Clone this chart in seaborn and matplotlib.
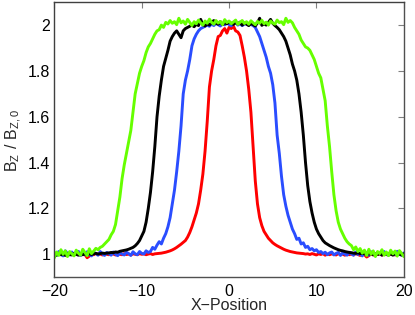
import numpy as np
import pandas as pd
import matplotlib
matplotlib.use('Agg')
import matplotlib.pyplot as plt
import seaborn as sns

# x grid: -20 .. 20 in 0.25 steps (161 points)
x_pos = np.linspace(-20, 20, 161)

red = [
    1.002, 0.998, 1.004, 1.000, 0.997, 1.003, 1.001, 0.999,
    1.003, 0.998, 1.002, 1.000, 0.996, 1.004, 0.999, 0.985,
    0.992, 1.002, 0.998, 1.004, 0.999, 1.001, 0.997, 1.003,
    1.000, 0.998, 1.004, 1.001, 0.997, 1.002, 1.000, 0.998,
    1.003, 0.999, 1.001, 0.997, 1.002, 1.000, 0.998, 1.003,
    1.000, 1.002, 0.998, 1.001, 1.003, 0.999, 1.002, 1.003,
    1.004, 1.005, 1.007, 1.009, 1.012, 1.015, 1.019, 1.024,
    1.030, 1.037, 1.044, 1.052, 1.060, 1.075, 1.095, 1.120,
    1.150, 1.180, 1.220, 1.280, 1.350, 1.450, 1.580, 1.730,
    1.800, 1.850, 1.910, 1.950, 1.955, 1.975, 1.985, 1.965,
    1.990, 1.985, 1.995, 1.975, 1.970, 1.955, 1.910, 1.860,
    1.800, 1.720, 1.620, 1.470, 1.320, 1.220, 1.160, 1.125,
    1.100, 1.085, 1.070, 1.060, 1.050, 1.043, 1.037, 1.032,
    1.027, 1.022, 1.018, 1.015, 1.012, 1.010, 1.008, 1.006,
    1.005, 1.004, 1.003, 1.001, 1.002, 0.999, 1.003, 1.000,
    0.997, 1.002, 0.999, 1.003, 0.996, 1.001, 0.998, 1.002,
    1.000, 0.997, 1.003, 0.999, 1.001, 0.996, 1.002, 0.998,
    1.001, 0.997, 1.003, 0.999, 0.995, 1.002, 0.998, 0.988,
    0.994, 1.001, 0.997, 1.003, 0.999, 1.002, 0.996, 1.001,
    0.998, 1.003, 0.999, 1.001, 0.997, 1.002, 1.000, 0.998,
    1.001,
]

blue = [
    1.005, 0.995, 1.012, 1.000, 0.993, 1.015, 1.004, 0.997,
    1.010, 0.996, 1.008, 1.013, 0.994, 1.006, 0.998, 1.011,
    1.000, 0.993, 1.009, 1.003, 0.996, 1.012, 1.001, 0.995,
    1.008, 1.002, 0.996, 1.010, 1.000, 0.994, 1.007, 1.001,
    0.997, 1.009, 1.003, 0.995, 1.011, 1.002, 0.998, 1.012,
    1.004, 1.001, 1.015, 1.008, 1.012, 1.030, 1.022, 1.040,
    1.055, 1.045, 1.070, 1.090, 1.120, 1.160, 1.220, 1.280,
    1.360, 1.450, 1.560, 1.700, 1.760, 1.800, 1.850, 1.910,
    1.940, 1.960, 1.975, 1.985, 1.990, 1.995, 2.000, 1.995,
    2.005, 1.998, 2.008, 2.002, 1.996, 2.006, 2.001, 2.010,
    2.003, 1.997, 2.008, 2.012, 2.000, 2.006, 1.998, 2.004,
    2.009, 2.001, 2.003, 1.998, 1.990, 1.970, 1.950, 1.920,
    1.890, 1.860, 1.820, 1.790, 1.740, 1.660, 1.520, 1.440,
    1.340, 1.260, 1.210, 1.170, 1.140, 1.110, 1.090, 1.065,
    1.070, 1.045, 1.050, 1.030, 1.035, 1.020, 1.025, 1.015,
    1.020, 1.008, 1.012, 1.003, 1.009, 0.998, 1.006, 1.010,
    0.997, 1.004, 1.008, 0.995, 1.006, 1.001, 0.996, 1.009,
    1.002, 0.996, 1.010, 0.999, 1.005, 0.993, 1.007, 1.002,
    0.996, 1.011, 1.000, 0.994, 1.008, 1.003, 0.997, 1.012,
    1.001, 0.995, 1.009, 1.004, 0.998, 1.013, 1.000, 0.996,
    1.006,
]

black = [
    1.000, 0.996, 1.004, 0.998, 1.002, 0.995, 1.003, 0.999,
    0.997, 1.003, 1.000, 0.996, 1.004, 0.998, 1.001, 0.997,
    1.003, 0.999, 1.002, 1.004, 1.001, 1.003, 1.005, 1.004,
    1.005, 1.006, 1.008, 1.007, 1.010, 1.009, 1.013, 1.015,
    1.017, 1.019, 1.022, 1.026, 1.030, 1.037, 1.047, 1.060,
    1.080, 1.100, 1.140, 1.200, 1.270, 1.360, 1.470, 1.600,
    1.690, 1.760, 1.820, 1.855, 1.890, 1.930, 1.950, 1.965,
    1.975, 1.960, 1.945, 1.975, 1.985, 1.990, 1.995, 2.000,
    1.993, 2.004, 1.998, 2.025, 2.002, 1.996, 2.006, 2.000,
    2.012, 2.020, 2.008, 2.004, 2.015, 2.002, 2.010, 2.006,
    2.014, 2.008, 2.003, 2.011, 2.005, 2.013, 2.000, 2.009,
    2.004, 1.998, 2.007, 2.002, 1.996, 2.010, 2.030, 1.999,
    2.006, 2.000, 2.012, 2.025, 2.008, 1.998, 1.990, 1.980,
    1.965, 1.950, 1.930, 1.900, 1.870, 1.830, 1.800, 1.760,
    1.700, 1.620, 1.520, 1.400, 1.300, 1.230, 1.180, 1.140,
    1.110, 1.090, 1.075, 1.060, 1.050, 1.044, 1.038, 1.033,
    1.028, 1.024, 1.020, 1.017, 1.015, 1.012, 1.010, 1.008,
    1.007, 1.005, 1.004, 1.006, 1.003, 1.005, 1.002, 1.004,
    1.001, 1.003, 0.998, 1.002, 0.999, 1.004, 0.997, 1.001,
    1.003, 0.998, 1.002, 0.996, 1.004, 0.999, 1.001, 0.997,
    1.002,
]

green = [
    0.985, 1.010, 0.995, 1.020, 1.000, 1.015, 0.990, 1.012,
    1.002, 0.993, 1.018, 1.005, 0.996, 1.022, 1.008, 0.994,
    1.024, 1.003, 1.014, 1.026, 1.020, 1.030, 1.035, 1.045,
    1.055, 1.065, 1.085, 1.100, 1.130, 1.190, 1.250, 1.330,
    1.390, 1.440, 1.490, 1.540, 1.620, 1.700, 1.745, 1.790,
    1.820, 1.845, 1.880, 1.905, 1.920, 1.940, 1.960, 1.975,
    1.980, 2.000, 1.990, 2.012, 2.005, 2.020, 2.008, 2.015,
    2.002, 2.030, 2.010, 2.018, 2.004, 2.025, 2.012, 1.998,
    2.015, 2.006, 2.022, 2.010, 2.000, 2.018, 2.008, 2.026,
    2.012, 2.004, 2.020, 2.009, 2.016, 2.002, 2.024, 2.011,
    2.018, 2.006, 2.014, 2.022, 2.003, 2.012, 2.020, 2.007,
    2.015, 2.004, 2.019, 2.010, 2.002, 2.016, 2.008, 2.021,
    2.006, 2.013, 2.000, 2.018, 2.009, 2.004, 2.022, 2.011,
    2.015, 2.002, 2.030, 2.012, 2.020, 2.010, 1.990, 1.975,
    1.960, 1.935, 1.920, 1.905, 1.900, 1.890, 1.870, 1.850,
    1.820, 1.790, 1.770, 1.720, 1.670, 1.560, 1.470, 1.360,
    1.260, 1.190, 1.140, 1.110, 1.090, 1.070, 1.055, 1.045,
    1.038, 1.020, 1.032, 1.012, 1.025, 1.005, 1.018, 0.995,
    1.022, 1.000, 1.015, 0.990, 1.012, 1.003, 1.020, 0.996,
    1.010, 0.994, 1.018, 1.002, 1.014, 0.992, 1.016, 1.004,
    0.990,
]

curves = ['red', 'blue', 'black', 'green']
colors = {'red': '#ff0000', 'blue': '#2a4dff', 'black': '#000000', 'green': '#66ff00'}

df = pd.concat([
    pd.DataFrame({'x': x_pos, 'bz': vals, 'curve': name})
    for name, vals in zip(curves, [red, blue, black, green])
], ignore_index=True)

sns.set_style('white')
plt.rcParams['font.family'] = ['Liberation Sans', 'DejaVu Sans']
plt.rcParams['mathtext.default'] = 'regular'

fig = plt.figure(figsize=(4.15, 3.15), dpi=100)
ax = fig.add_axes([0.131, 0.12, 0.842, 0.873])

sns.lineplot(data=df, x='x', y='bz', hue='curve', hue_order=curves,
             palette=colors, estimator=None, sort=False, lw=2.1,
             legend=False, ax=ax)

ax.set_xlim(-20, 20)
ax.set_ylim(0.9, 2.1)
ax.set_xticks([-20, -10, 0, 10, 20])
ax.set_yticks([1, 1.2, 1.4, 1.6, 1.8, 2])
ax.set_yticklabels(['1', '1.2', '1.4', '1.6', '1.8', '2'])
ax.tick_params(direction='in', length=4, width=0.8, top=True, right=True,
               labelsize=11.5, labelcolor='#000000', color='#808080')
ax.tick_params(axis='y', pad=3)
ax.tick_params(axis='x', pad=5)
for side in ['left', 'top']:
    ax.spines[side].set_color('#404040')
for side in ['right', 'bottom']:
    ax.spines[side].set_color('#505050')
for s in ax.spines.values():
    s.set_linewidth(1.0)

ax.set_xlabel('X\u2212Position', fontsize=11.5, labelpad=-1)
ax.set_ylabel(r'$B_Z\ /\ B_{Z,0}$', fontsize=11.5, labelpad=3)

fig.savefig('out.png', dpi=100)
